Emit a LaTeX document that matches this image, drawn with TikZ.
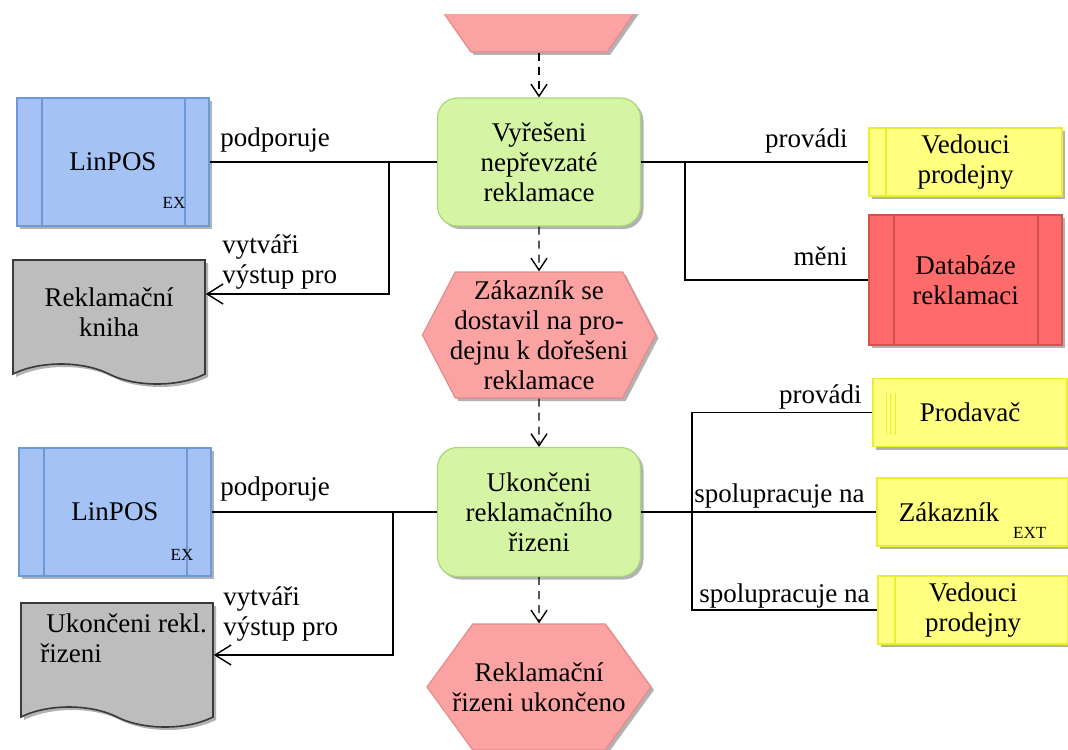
\documentclass[tikz,border=0pt]{standalone}
\usepackage{fontspec}
\setmainfont{Liberation Serif}
\usetikzlibrary{arrows.meta,positioning,shapes.symbols,shadows}

\definecolor{evfill}{HTML}{FBA3A3}
\definecolor{evline}{HTML}{E58A8A}
\definecolor{fnfill}{HTML}{D5F5A5}
\definecolor{fnline}{HTML}{A9D679}
\definecolor{sysfill}{HTML}{A4C2F4}
\definecolor{sysline}{HTML}{6D9AD6}
\definecolor{dbfill}{HTML}{FF6B6B}
\definecolor{dbline}{HTML}{D65050}
\definecolor{rolefill}{HTML}{FFFF80}
\definecolor{roleline}{HTML}{EDED30}
\definecolor{docfill}{HTML}{BDBDBD}
\definecolor{docline}{HTML}{3A3A3A}

\newcommand{\exfont}{\fontsize{8.5}{10}\selectfont}

\tikzset{
  txt/.style={font=\fontsize{13.5}{15}\selectfont, align=center, inner sep=1pt},
  tag/.style={font=\exfont, inner sep=0pt},
  rel/.style={txt, inner sep=0pt},
  shd/.style={drop shadow={shadow xshift=1.5pt, shadow yshift=-1.5pt, opacity=.3, fill=black}},
  event/.style={txt, shd, signal, signal to=east and west, draw=evline, fill=evfill, line width=.6pt,
    inner xsep=-30pt},
  func/.style={txt, shd, rectangle, rounded corners=10pt, draw=fnline, fill=fnfill, line width=.6pt,
    minimum width=101.5pt, minimum height=64pt},
  system/.style={txt, shd, draw=sysline, fill=sysfill, line width=.6pt, minimum width=96pt, minimum height=64pt,
    path picture={\draw[sysline, line width=.6pt]
      ([xshift=12.5pt]path picture bounding box.north west) -- ([xshift=12.5pt]path picture bounding box.south west)
      ([xshift=-12pt]path picture bounding box.north east) -- ([xshift=-12pt]path picture bounding box.south east);}},
  database/.style={txt, shd, draw=dbline, fill=dbfill, line width=.6pt, minimum width=96.5pt, minimum height=65pt,
    path picture={\draw[dbline, line width=.6pt]
      ([xshift=12.5pt]path picture bounding box.north west) -- ([xshift=12.5pt]path picture bounding box.south west)
      ([xshift=-12pt]path picture bounding box.north east) -- ([xshift=-12pt]path picture bounding box.south east);}},
  role/.style={txt, shd, draw=roleline, fill=rolefill, line width=.8pt, minimum width=96.5pt, minimum height=34pt},
  rolebar/.style={role, path picture={\draw[roleline, line width=.6pt]
      ([xshift=8.5pt]path picture bounding box.north west) -- ([xshift=8.5pt]path picture bounding box.south west);}},
  staff/.style={role, path picture={\foreach \dx in {6.5,8.5,11}
      \draw[roleline, line width=.4pt] ([xshift=\dx pt, yshift=-7pt]path picture bounding box.north west)
        -- ([xshift=\dx pt, yshift=6pt]path picture bounding box.south west);}},
  document/.style={txt, shd, tape, tape bend top=none, tape bend bottom=out and in, tape bend height=10pt,
    draw=docline, fill=docfill, line width=.8pt, minimum width=96pt, minimum height=62pt},
  link/.style={line width=.7pt},
  flow/.style={link, dash pattern=on 4pt off 3pt, -{Straight Barb[length=6pt, width=8pt]}},
  output/.style={link, -{Straight Barb[length=8pt, width=10pt]}},
}

\begin{document}
\begin{tikzpicture}[x=0.5pt, y=-0.5pt]
  \useasboundingbox (0,0) rectangle (1068,749);

  % events
  \begin{scope}
    \clip (0,15) rectangle (1068,749);
    \node[event, minimum width=115pt, minimum height=67pt, signal pointer angle=110] (start) at (539,-15) {};
  \end{scope}
  \node[event, minimum width=116.5pt, minimum height=63pt, signal pointer angle=125] (arrived) at (539,335)
    {Zákazník se\\dostavil na pro-\\dejnu k dořešeni\\reklamace};
  \node[event, minimum width=112pt, minimum height=63pt, signal pointer angle=108] (closed) at (539,687)
    {Reklamační\\řizeni ukončeno};

  % functions
  \node[func] (solve) at (539,162) {Vyřešeni\\nepřevzaté\\reklamace};
  \node[func, minimum height=64.5pt] (finish) at (539,512) {Ukončeni\\reklamačního\\řizeni};

  % left side
  \node[system] (pos1) at (113,162) {LinPOS};
  \node[tag] (pos1ex) at (174,203) {EX};
  \node[document] (book) at (109,312) {Reklamační\\kniha};
  \node[system] (pos2) at (115,512) {LinPOS};
  \node[tag] (pos2ex) at (182,555) {EX};
  \node[document] (report) at (117,655) {};
  \node[txt, align=left, anchor=west] (reporttxt) at (38,638) {\hspace{3pt}Ukončeni rekl.\\řizeni};

  % right side
  \node[rolebar] (head1) at (965.5,162) {Vedouci\\prodejny};
  \node[database] (db) at (965.5,280) {Databáze\\reklamaci};
  \node[staff, minimum width=97pt] (seller) at (970,412.5) {Prodavač};
  \node[role, minimum width=95.5pt] (cust) at (972.5,512)
    {Zákazník\hspace{7pt}\smash{\raisebox{-8.5pt}{\exfont EXT}}};
  \node[rolebar, minimum width=95pt] (head2) at (973,610) {Vedouci\\prodejny};

  % process flow
  \draw[flow] (start) -- (solve);
  \draw[flow] (solve) -- (arrived);
  \draw[flow] (arrived) -- (finish);
  \draw[flow] (finish) -- (closed);

  % first function
  \coordinate (j1) at (389,162);
  \coordinate (j2) at (685,162);
  \draw[link] (pos1) -- (solve);
  \draw[output] (j1) |- ([yshift=9pt]book.east);
  \draw[link] (solve) -- (head1);
  \draw[link] (j2) |- (db);
  \node[rel, anchor=west] (sup1) at (220,140) {podporuje};
  \node[rel, anchor=west, align=left] (gen1) at (222,262) {vytváři\\výstup pro};
  \node[rel, anchor=east] (exe1) at (848,141) {provádi};
  \node[rel, anchor=east] (chg1) at (848,256) {měni};

  % second function
  \coordinate (j3) at (692,512);
  \coordinate (j4) at (393,512);
  \draw[link] (pos2) -- (finish);
  \draw[output] (j4) |- (report);
  \draw[link] (finish) -- (cust);
  \draw[link] (seller) -| (j3) |- (head2);
  \node[rel, anchor=west] (sup2) at (220,489) {podporuje};
  \node[rel, anchor=west, align=left] (gen2) at (223,614) {vytváři\\výstup pro};
  \node[rel, anchor=east] (exe2) at (862,397) {provádi};
  \node[rel, anchor=east] (coop1) at (865,496) {spolupracuje na};
  \node[rel, anchor=east] (coop2) at (870,596) {spolupracuje na};
\end{tikzpicture}
\end{document}
